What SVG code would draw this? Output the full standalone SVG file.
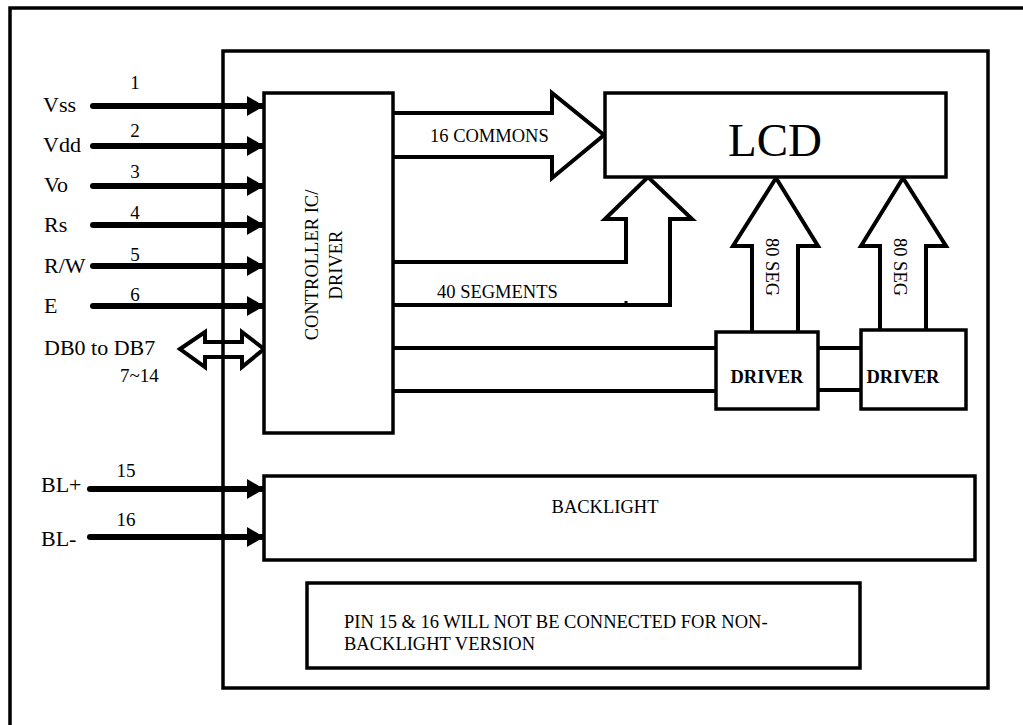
<svg xmlns="http://www.w3.org/2000/svg" width="1023" height="725" viewBox="0 0 1023 725">
<style>
  .frame{fill:none;stroke:#000;stroke-width:3.5}
  .box{fill:#fff;stroke:#000;stroke-width:3.5}
  .conn{fill:none;stroke:#000;stroke-width:4;stroke-linejoin:miter}
  .pin{stroke:#000;stroke-width:6;stroke-linecap:round;fill:none}
  .t{font-family:"Liberation Serif","Times New Roman",serif;fill:#000}
  .lbl{font-size:22px}
  .num{font-size:19px}
  .s{font-size:18.5px}
  .b{font-size:18.5px;font-weight:bold}
</style>
<defs>
  <marker id="ah" markerUnits="userSpaceOnUse" markerWidth="17" markerHeight="20" refX="17" refY="10" orient="auto">
    <path d="M0,0 L17,10 L0,20 Z" fill="#000"/>
  </marker>
</defs>
<rect width="1023" height="725" fill="#fff"/>
<g id="outer-frame"><rect class="frame" x="10" y="8" width="1040" height="740"/></g>
<g id="module-frame"><rect class="frame" x="223" y="51" width="765" height="637"/></g>

<g id="connectors">
  <line class="pin" x1="93" y1="106" x2="264" y2="106" marker-end="url(#ah)"/>
  <line class="pin" x1="93" y1="146" x2="264" y2="146" marker-end="url(#ah)"/>
  <line class="pin" x1="93" y1="186" x2="264" y2="186" marker-end="url(#ah)"/>
  <line class="pin" x1="93" y1="225" x2="264" y2="225" marker-end="url(#ah)"/>
  <line class="pin" x1="93" y1="266" x2="264" y2="266" marker-end="url(#ah)"/>
  <line class="pin" x1="93" y1="306" x2="264" y2="306" marker-end="url(#ah)"/>
  <polygon class="conn" points="180,349 205,332 205,342 242,342 242,332 264,349 242,367 242,357 205,357 205,367"/>
  <line class="pin" x1="90" y1="489" x2="264" y2="489" marker-end="url(#ah)"/>
  <line class="pin" x1="90" y1="537" x2="264" y2="537" marker-end="url(#ah)"/>
  <polyline class="conn" points="393,113 552,113 552,93 604,135 552,178 552,157 393,157"/>
  <polyline class="conn" points="393,262 626,262 626,219 605,219 648,177 692,219 670,219 670,305 393,305"/>
  <line x1="626" y1="301" x2="626" y2="306" stroke="#000" stroke-width="3"/>
  <line class="conn" x1="393" y1="348" x2="716" y2="348"/>
  <line class="conn" x1="393" y1="391" x2="716" y2="391"/>
  <line class="conn" x1="818" y1="348" x2="861" y2="348"/>
  <line class="conn" x1="818" y1="390" x2="861" y2="390"/>
  <polyline class="conn" points="752,332 752,246 733,246 776,178 818,246 798,246 798,332"/>
  <polyline class="conn" points="880,330 880,246 861,246 903,178 946,246 926,246 926,330"/>
</g>

<g id="pin-labels">
  <text class="t lbl" x="43" y="112">Vss</text>
  <text class="t lbl" x="43" y="152">Vdd</text>
  <text class="t lbl" x="44" y="192">Vo</text>
  <text class="t lbl" x="44" y="232">Rs</text>
  <text class="t lbl" x="44" y="273">R/W</text>
  <text class="t lbl" x="44" y="313">E</text>
  <text class="t lbl" x="44" y="355">DB0 to DB7</text>
  <text class="t num" x="120" y="382">7~14</text>
  <text class="t num" x="135" y="89" text-anchor="middle">1</text>
  <text class="t num" x="135" y="137" text-anchor="middle">2</text>
  <text class="t num" x="135" y="178" text-anchor="middle">3</text>
  <text class="t num" x="135" y="219" text-anchor="middle">4</text>
  <text class="t num" x="135" y="261" text-anchor="middle">5</text>
  <text class="t num" x="135" y="301" text-anchor="middle">6</text>
  <text class="t lbl" x="41" y="492">BL+</text>
  <text class="t lbl" x="41" y="546">BL-</text>
  <text class="t num" x="126" y="477" text-anchor="middle">15</text>
  <text class="t num" x="126" y="526" text-anchor="middle">16</text>
</g>

<g id="controller">
  <rect class="box" x="264" y="93" width="129" height="340"/>
  <g transform="translate(0,265) rotate(-90)">
    <text class="t s" x="0" y="318" text-anchor="middle">CONTROLLER IC/</text>
    <text class="t s" x="0" y="342" text-anchor="middle">DRIVER</text>
  </g>
</g>

<g id="lcd">
  <rect class="box" x="605" y="93" width="341" height="84"/>
  <text class="t" x="775" y="156" font-size="47" text-anchor="middle">LCD</text>
</g>

<g id="labels">
  <text class="t s" x="430" y="142">16 COMMONS</text>
  <text class="t s" x="437" y="298">40 SEGMENTS</text>
  <text class="t s" transform="translate(772,267) rotate(90)" x="0" y="6" text-anchor="middle">80 SEG</text>
  <text class="t s" transform="translate(900,267) rotate(90)" x="0" y="6" text-anchor="middle">80 SEG</text>
</g>

<g id="driver1">
  <rect class="box" x="716" y="332" width="102" height="77"/>
  <text class="t b" x="767" y="383" text-anchor="middle">DRIVER</text>
</g>
<g id="driver2">
  <rect class="box" x="861" y="330" width="105" height="79"/>
  <text class="t b" x="903" y="383" text-anchor="middle">DRIVER</text>
</g>

<g id="backlight">
  <rect class="box" x="264" y="476" width="711" height="84"/>
  <text class="t s" x="605" y="513" text-anchor="middle">BACKLIGHT</text>
</g>

<g id="note">
  <rect class="box" x="307" y="583" width="553" height="85"/>
  <text class="t s" x="344" y="628">PIN 15 &amp; 16 WILL NOT BE CONNECTED FOR NON-</text>
  <text class="t s" x="344" y="650">BACKLIGHT VERSION</text>
</g>
</svg>
